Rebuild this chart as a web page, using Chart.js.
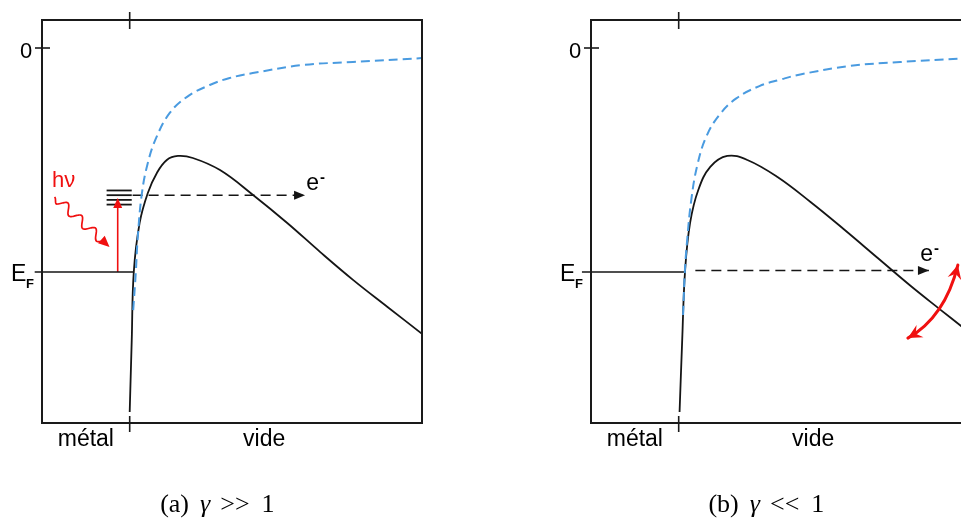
<!DOCTYPE html>
<html><head><meta charset="utf-8">
<script src="https://cdn.jsdelivr.net/npm/chart.js@4.4.1/dist/chart.umd.min.js"></script>
<style>
html,body{margin:0;padding:0;background:#fff;overflow:hidden;width:961px;height:519px;position:relative}
canvas{position:absolute;top:0}
#ca{left:0}
#cb{left:549px}
</style></head><body>
<canvas id="ca" width="480" height="519"></canvas>
<canvas id="cb" width="480" height="519"></canvas>
<script>
// ---------- data (x: distance, interface at 0; y: energy, vacuum 0, Fermi level -1) ----------
const regionLabels = ['métal', 'vide'];
const yTickLabels = ['0', 'E', 'F'];
const captionA = ['(a)', 'γ', '>>', '1'];
const captionB = ['(b)', 'γ', '<<', '1'];
const electronLabel = ['e', '-'];
const photonLabel = 'hν';

const barrierAx = [0, 0.007, 0.014, 0.034, 0.062, 0.093, 0.127, 0.165, 0.216, 0.309, 0.422, 0.539, 0.652, 0.765, 0.882, 1.0];
const barrierAy = [-1.625, -1.304, -1.0, -0.781, -0.647, -0.558, -0.5, -0.482, -0.491, -0.545, -0.656, -0.781, -0.911, -1.036, -1.156, -1.276];
const imageAx = [0.012, 0.021, 0.027, 0.041, 0.062, 0.092, 0.137, 0.195, 0.274, 0.342, 0.421, 0.592, 0.764, 1.0];
const imageAy = [-1.170, -1.0, -0.857, -0.656, -0.513, -0.397, -0.290, -0.219, -0.165, -0.134, -0.112, -0.076, -0.0625, -0.045];

const barrierBx = [0.003, 0.012, 0.022, 0.039, 0.067, 0.108, 0.166, 0.235, 0.338, 0.451, 0.564, 0.681, 0.794, 0.897, 0.966, 1.0];
const barrierBy = [-1.625, -1.304, -0.991, -0.781, -0.634, -0.531, -0.482, -0.5, -0.576, -0.6875, -0.808, -0.9375, -1.0625, -1.170, -1.241, -1.277];
const imageBx = [0.015, 0.021, 0.029, 0.043, 0.063, 0.094, 0.139, 0.197, 0.276, 0.348, 0.416, 0.587, 0.758, 0.967, 1.0];
const imageBy = [-1.192, -1.0, -0.857, -0.679, -0.527, -0.397, -0.299, -0.225, -0.170, -0.141, -0.118, -0.080, -0.0625, -0.047, -0.045];

const fermiLevel = -1;
const fermiAx = [-0.325, 0.012];
const fermiBx = [-0.331, 0.019];
const levelsY = [-0.636, -0.657, -0.678, -0.699];
const levelsX = [-0.079, 0.007];
const electronAx = [0.01, 0.600];
const electronAy = -0.657;
const electronBx = [0.057, 0.856];
const electronBy = -0.993;
const photonUpX = -0.041;
const photonUpY = [-1, -0.670];
const wavyX = [-0.257, -0.069];
const wavyY = [-0.665, -0.888];
const arcX = [0.784, 0.911, 0.955];
const arcY = [-1.295, -1.201, -0.969];
const eLabelA = [0.604, -0.634];
const eLabelB = [0.826, -0.951];
const hvLabel = [-0.226, -0.621];
const regionLabelX = [-0.15, 0.46];
const captionX = 0.30;
const interfaceX = 0;
const zeroEnergy = 0;

// ---------- helpers ----------
const zip = (xs, ys) => xs.map((x, i) => ({x, y: Array.isArray(ys) ? ys[i] : ys}));
const SANS = '"Liberation Sans", Arial, sans-serif';
const SERIF = '"Liberation Serif", "Times New Roman", serif';
const RED = '#f01010';
const BLACK = '#151515';
const BLUE = '#4a9be0';

function P(chart, x, y) { return [chart.scales.x.getPixelForValue(x), chart.scales.y.getPixelForValue(y)]; }
function seg(ctx, x0, y0, x1, y1) { ctx.beginPath(); ctx.moveTo(x0, y0); ctx.lineTo(x1, y1); ctx.stroke(); }
function head(ctx, tx, ty, ux, uy, len, half, notch) {
  const nx = -uy, ny = ux;
  ctx.beginPath();
  ctx.moveTo(tx, ty);
  ctx.lineTo(tx - ux * len + nx * half, ty - uy * len + ny * half);
  ctx.lineTo(tx - ux * (len - notch), ty - uy * (len - notch));
  ctx.lineTo(tx - ux * len - nx * half, ty - uy * len - ny * half);
  ctx.closePath(); ctx.fill();
}

const decor = {
  id: 'decor',
  afterDatasetsDraw(chart, args, o) {
    const ctx = chart.ctx, a = chart.chartArea;
    ctx.save();
    // frame
    ctx.strokeStyle = '#1a1a1a'; ctx.lineWidth = 2;
    ctx.strokeRect(a.left, a.top, a.right - a.left, a.bottom - a.top);
    // crossing ticks
    const xi = chart.scales.x.getPixelForValue(interfaceX);
    const y0 = chart.scales.y.getPixelForValue(zeroEnergy);
    const yF = chart.scales.y.getPixelForValue(fermiLevel);
    ctx.lineWidth = 1.6;
    seg(ctx, xi, a.top - 8, xi, a.top + 9);
    seg(ctx, xi, a.bottom - 7, xi, a.bottom + 9);
    seg(ctx, a.left - 7, y0, a.left + 8, y0);
    // tick labels
    ctx.fillStyle = '#000'; ctx.textBaseline = 'alphabetic';
    ctx.font = '22px ' + SANS; ctx.textAlign = 'center';
    ctx.fillText(yTickLabels[0], a.left - 16, y0 + 10);
    ctx.textAlign = 'left';
    ctx.font = '23px ' + SANS;
    ctx.fillText(yTickLabels[1], a.left - 31, yF + 9);
    ctx.font = 'bold 13px ' + SANS;
    ctx.fillText(yTickLabels[2], a.left - 16, yF + 16);
    // region labels
    ctx.font = '23px ' + SANS; ctx.textAlign = 'center';
    regionLabels.forEach((t, i) => ctx.fillText(t, chart.scales.x.getPixelForValue(regionLabelX[i]), a.bottom + 23));
    // caption
    const cap = o.caption;
    const fonts = ['26px ' + SERIF, 'italic 26px ' + SERIF, '26px ' + SERIF, '26px ' + SERIF];
    const gaps = [11, 10, 12];
    let widths = cap.map((t, i) => { ctx.font = fonts[i]; return ctx.measureText(t).width; });
    let total = widths.reduce((s, w) => s + w, 0) + gaps.reduce((s, g) => s + g, 0);
    let cx = chart.scales.x.getPixelForValue(captionX) - total / 2;
    ctx.textAlign = 'left';
    cap.forEach((t, i) => { ctx.font = fonts[i]; ctx.fillText(t, cx, 512); cx += widths[i] + (gaps[i] || 0); });
    // electron arrow head + label
    const ex = o.electronX, ey = o.electronY;
    const [tx, ty] = P(chart, ex[1], ey);
    ctx.fillStyle = BLACK;
    head(ctx, tx, ty, 1, 0, 11, 4.5, 0);
    const [lx, ly] = P(chart, o.eLabel[0], o.eLabel[1]);
    ctx.fillStyle = '#000';
    ctx.font = '23px ' + SANS; ctx.textAlign = 'left';
    ctx.fillText(electronLabel[0], lx, ly);
    const ew = ctx.measureText(electronLabel[0]).width;
    ctx.font = 'bold 15px ' + SANS;
    ctx.fillText(electronLabel[1], lx + ew + 1, ly - 8);

    if (o.panel === 'a') {
      const [vx, vy] = P(chart, photonUpX, photonUpY[1]);
      ctx.fillStyle = RED;
      head(ctx, vx, vy, 0, -1, 10, 4.5, 0);
      const [x0, y0w] = P(chart, wavyX[0], wavyY[0]);
      const [x1, y1w] = P(chart, wavyX[1], wavyY[1]);
      const dx = x1 - x0, dy = y1w - y0w, L = Math.hypot(dx, dy);
      const ux = dx / L, uy = dy / L, nx = -uy, ny = ux;
      const Lw = L - 9;
      ctx.strokeStyle = RED; ctx.lineWidth = 1.7;
      ctx.beginPath();
      for (let i = 0; i <= 120; i++) {
        const t = i / 120 * Lw;
        const s = 4.5 * Math.sin(2 * Math.PI * t / (Lw / 3.5)) * Math.min(1, t / 6);
        const px = x0 + ux * t + nx * s, py = y0w + uy * t + ny * s;
        if (i === 0) ctx.moveTo(px, py); else ctx.lineTo(px, py);
      }
      ctx.stroke();
      head(ctx, x1, y1w, ux, uy, 11, 5, 0);
      const [hx, hy] = P(chart, hvLabel[0], hvLabel[1]);
      ctx.font = '22px ' + SANS; ctx.textAlign = 'center';
      ctx.fillText(photonLabel, hx, hy);
    } else {
      const [sx, sy] = P(chart, arcX[0], arcY[0]);
      const [cxp, cyp] = P(chart, arcX[1], arcY[1]);
      const [fx, fy] = P(chart, arcX[2], arcY[2]);
      ctx.strokeStyle = RED; ctx.fillStyle = RED; ctx.lineWidth = 3; ctx.lineCap = 'round';
      ctx.beginPath(); ctx.moveTo(sx, sy); ctx.quadraticCurveTo(cxp, cyp, fx, fy); ctx.stroke();
      let d1x = sx - cxp, d1y = sy - cyp, l1 = Math.hypot(d1x, d1y);
      head(ctx, sx, sy, d1x / l1, d1y / l1, 14, 7, 5);
      let d2x = fx - cxp, d2y = fy - cyp, l2 = Math.hypot(d2x, d2y);
      head(ctx, fx, fy, d2x / l2, d2y / l2, 14, 7, 5);
    }
    ctx.restore();
  }
};

function makePanel(id, panel) {
  const isA = panel === 'a';
  const datasets = [
    {data: zip(isA ? imageAx : imageBx, isA ? imageAy : imageBy), borderColor: BLUE, borderWidth: 2, borderDash: [9, 5], tension: 0.4},
    {data: zip(isA ? barrierAx : barrierBx, isA ? barrierAy : barrierBy), borderColor: BLACK, borderWidth: 1.8, tension: 0.4},
    {data: zip(isA ? fermiAx : fermiBx, fermiLevel), borderColor: BLACK, borderWidth: 1.6, clip: false},
    {data: zip(isA ? electronAx : electronBx, isA ? electronAy : electronBy), borderColor: BLACK, borderWidth: 1.6, borderDash: [10, 6]}
  ];
  if (isA) {
    levelsY.forEach(ly => datasets.push({data: zip(levelsX, ly), borderColor: BLACK, borderWidth: 1.8}));
    datasets.push({data: zip([photonUpX, photonUpX], [photonUpY[0], photonUpY[1] - 0.03]), borderColor: RED, borderWidth: 1.6});
  }
  datasets.forEach(d => { d.showLine = true; d.pointRadius = 0; d.fill = false; });
  return new Chart(document.getElementById(id), {
    type: 'scatter',
    data: {datasets},
    options: {
      responsive: false, animation: false, devicePixelRatio: 1,
      layout: {padding: {left: 42, top: 20, right: 58, bottom: 96}},
      scales: {
        x: {type: 'linear', min: -0.3, max: 1.0, display: false},
        y: {type: 'linear', min: -1.674, max: 0.125, display: false}
      },
      plugins: {
        legend: {display: false}, tooltip: {enabled: false},
        decor: {
          panel,
          caption: isA ? captionA : captionB,
          electronX: isA ? electronAx : electronBx,
          electronY: isA ? electronAy : electronBy,
          eLabel: isA ? eLabelA : eLabelB
        }
      }
    },
    plugins: [decor]
  });
}
makePanel('ca', 'a');
makePanel('cb', 'b');
</script>
</body></html>
